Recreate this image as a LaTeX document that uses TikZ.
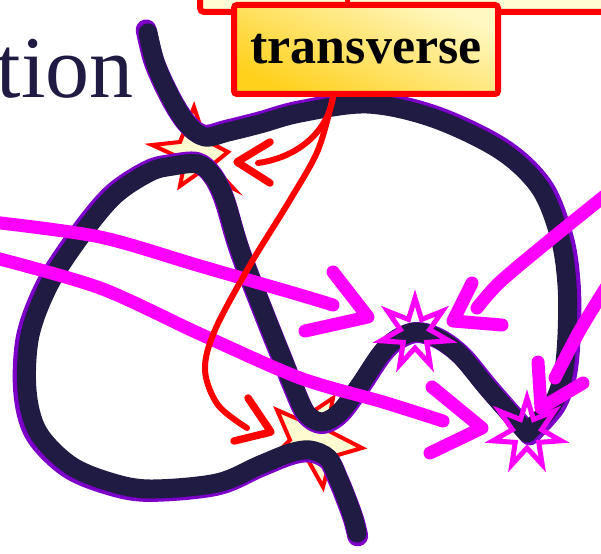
\documentclass[tikz,border=0pt]{standalone}
\usepackage{fontspec}
\setmainfont{Liberation Serif}
\usetikzlibrary{arrows.meta,calc}
\definecolor{navy}{RGB}{31,27,66}
\definecolor{shadowpurple}{RGB}{125,0,200}
\definecolor{cream}{RGB}{255,251,208}
\definecolor{upperfill}{RGB}{255,252,212}
\definecolor{boxlight}{RGB}{255,248,195}
\definecolor{boxdark}{RGB}{255,208,28}
\definecolor{mag}{RGB}{255,0,255}
\tikzset{
  curveshadow/.style={draw=shadowpurple, line width=21pt, line cap=round, line join=round},
  curvemain/.style={draw=navy, line width=19pt, line cap=round, line join=round},
  redstar/.style={draw=red, fill=cream, line width=4pt, line join=miter},
  magstar/.style={draw=mag, line width=5pt, line join=miter},
  redline/.style={draw=red, line width=6pt, line cap=round},
  redbarb/.style={draw=red, line width=7.5pt, line cap=round, line join=round},
  magline/.style={draw=mag, line width=13pt, line cap=round},
  magbarb/.style={draw=mag, line width=13pt, line cap=round, line join=round},
  labelbox/.style={draw=red, line width=6pt, rounded corners=3pt, top color=boxlight, bottom color=boxdark, shading angle=-25, minimum width=264pt, minimum height=89pt, inner sep=0pt, font=\fontsize{52}{56}\selectfont\bfseries},
}
\newcommand{\curvepartA}[1]{\draw[#1] plot[smooth, tension=0.55] coordinates {(148,33) (156,65) (172,100) (188,125) (205,137) (228,132) (260,124) (300,113) (367,104) (433,118) (500,150) (540,188) (560,238) (567,285) (567,335) (563,375) (552,405) (527,433)};}
\newcommand{\curvepartB}[1]{\draw[#1] plot[smooth, tension=0.55] coordinates {(527,433) (505,408) (485,385) (460,355) (437,338) (415,332) (395,340) (380,355) (360,385) (340,412) (322,422) (306,413) (293,385) (283,360) (265,315) (240,250) (225,200) (213,176) (198,164) (173,166) (150,172) (115,195) (83,233) (50,283) (30,335) (27,390) (38,432) (70,465) (110,482) (150,489) (217,483) (260,465) (290,453) (310,450) (328,458) (338,478) (345,495) (353,517) (357,533)};}
\newcommand{\sevenstar}[1]{\draw[magstar] ($(#1)+(0,-35)$) \foreach \k in {1,...,13}{ -- ($(#1)+({ifthenelse(isodd(\k),15,35)*sin(\k*180/7)},{-ifthenelse(isodd(\k),15,35)*cos(\k*180/7)})$) } -- cycle;}
\begin{document}
\begin{tikzpicture}[x=1pt,y=-1pt]
\useasboundingbox (0,0) rectangle (601,553);
\clip (0,0) rectangle (601,553);
% title fragment
\node[anchor=base east, text=navy, font=\fontsize{88}{90}\selectfont, inner sep=0pt] (title) at (134,98) {tion};
% red starbursts (under the curve)
\coordinate (starA) at (193,155);
\coordinate (starB) at (313,440);
\draw[redstar] (152,145) -- (180,142) -- (194,107) -- (205,140) -- (228,152) -- (212,165) -- (234,189) -- (200,172) -- (180,186) -- (185,160) -- cycle;
\draw[redstar] (277,410) -- (300,420) -- (333,398) -- (327,430) -- (362,448) -- (331,457) -- (323,487) -- (308,460) -- (268,462) -- (290,440) -- cycle;
% the curve
\curvepartA{curveshadow, shift={(300,290)}, scale=1.012, shift={(-300,-290)}}
\curvepartB{curveshadow, shift={(300,290)}, scale=1.012, shift={(-300,-290)}}
\curvepartA{curvemain}
\curvepartB{curvemain}
% magenta stars
\coordinate (starC) at (415,333);
\coordinate (starD) at (527,433);
\sevenstar{starC}
\sevenstar{starD}
% magenta arrows
\coordinate (tipA) at (368,317);
\coordinate (tipB) at (482,428);
\coordinate (tipC) at (453,321);
\coordinate (tipD) at (541,408);
\draw[magline] plot[smooth, tension=0.5] coordinates {(-8,222) (100,237) (200,266) (300,295) (333,305)};
\draw[magbarb] (333,272) -- (tipA) -- (305,331);
\draw[magline] plot[smooth, tension=0.5] coordinates {(-8,257) (100,288) (200,334) (300,378) (383,402) (443,421)};
\draw[magbarb] (432,387) -- (tipB) -- (430,453);
\draw[magline] plot[smooth, tension=0.5] coordinates {(612,190) (550,240) (500,282) (477,308)};
\draw[magbarb] (472,283) -- (tipC) -- (502,325);
\draw[magline] plot[smooth, tension=0.5] coordinates {(612,278) (580,330) (555,378)};
\draw[magbarb] (538,362) -- (tipD) -- (583,383);
% upper box (cut off)
\node[draw=red, line width=6pt, fill=upperfill, rounded corners=4pt, minimum width=460pt, minimum height=60pt, anchor=south west, inner sep=0pt] (upperbox) at (197,15) {};
% transverse box
\node[labelbox] (transverse) at (366,49.5) {transverse};
\draw[draw=red, line width=5pt] ($(transverse.north)+(-19,0)$) -- ++(0,-20);
% red arrows
\coordinate (rs) at ($(transverse.south)+(-33,0)$);
\coordinate (tipE) at (237,162);
\coordinate (tipF) at (271,432);
\draw[redline] (rs) .. controls (328,130) and (300,157) .. (258,163);
\draw[redbarb] (270,142) -- (tipE) -- (270,183);
\draw[redline] plot[smooth, tension=0.55] coordinates {(rs) (318,150) (290,200) (250,265) (215,330) (205,370) (218,405) (247,428)};
\draw[redbarb] (248,398) -- (tipF) -- (234,441);
\end{tikzpicture}
\end{document}
